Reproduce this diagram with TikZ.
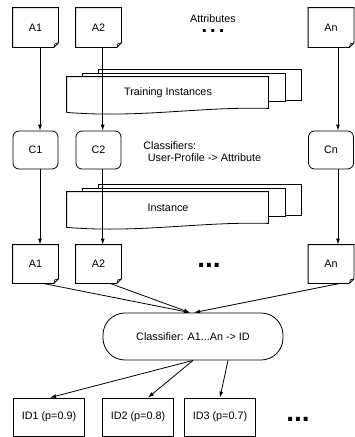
\documentclass[tikz,border=0pt]{standalone}
\usepackage{fontspec}
\setmainfont{Liberation Sans}
\usetikzlibrary{arrows.meta,calc}
\newcommand\docfold[1]{%
  \draw (#1.north west) -- (#1.north east) -- ([yshift=4.5pt]#1.south east) -- ([xshift=-4.5pt]#1.south east) -- (#1.south west) -- cycle;
  \draw[line width=0.6pt] ([yshift=4.5pt]#1.south east) -- ([xshift=-3.6pt,yshift=3.6pt]#1.south east) -- ([xshift=-4.5pt]#1.south east);}
\newcommand\multidoc[1]{%
  \draw (#1.south west) -- (#1.north west) -- (#1.north east) -- ([yshift=4pt]#1.south east)
    .. controls ([xshift=-68pt,yshift=6pt]#1.south east) and ([xshift=73pt,yshift=-6pt]#1.south west) .. (#1.south west);
  \draw ([xshift=16pt]#1.north west) -- ([xshift=16pt,yshift=3.5pt]#1.north west) -- ([xshift=17pt,yshift=3.5pt]#1.north east) -- ([xshift=17pt,yshift=11.5pt]#1.south east) -- ([yshift=11.5pt]#1.south east);
  \draw ([xshift=32pt,yshift=3.5pt]#1.north west) -- ([xshift=32pt,yshift=7pt]#1.north west) -- ([xshift=33pt,yshift=7pt]#1.north east) -- ([xshift=33pt,yshift=12pt]#1.south east) -- ([xshift=17pt,yshift=12pt]#1.south east);}
\begin{document}
\begin{tikzpicture}[x=1pt,y=-1pt, line width=0.8pt,
  every node/.style={font=\fontsize{10.8}{13}\selectfont, inner sep=0pt},
  docnode/.style={minimum width=45pt, minimum height=39pt},
  clsnode/.style={draw, rounded corners=6pt, minimum width=45pt, minimum height=38pt},
  idbox/.style={draw, minimum width=71pt, minimum height=38pt},
  mdoc/.style={minimum width=201pt, minimum height=35pt},
  arr/.style={-{Latex[length=6pt,width=4pt]}},
  bigdots/.style={font=\fontsize{28}{28}\selectfont\bfseries}
]
\useasboundingbox (0,0) rectangle (354,437);

% top attributes
\node[docnode] (a1) at (35.5,27.5) {A1};
\node[docnode] (a2) at (98.5,27.5) {A2};
\node[docnode] (an) at (331,27.5) {An};
\docfold{a1}\docfold{a2}\docfold{an}
\node[align=center, anchor=north] (attr) at (213,14.6) {Attributes\\[-3pt]{\fontsize{20}{20}\selectfont\bfseries .\hspace{3pt}.\hspace{3pt}.}\hspace{8pt}};

% training instances
\node[mdoc] (train) at (167.5,94.5) {};
\multidoc{train}
\node (traintxt) at (168,93) {Training Instances};

% classifiers
\node[clsnode] (c1) at (35.5,150) {C1};
\node[clsnode] (c2) at (98.5,150) {C2};
\node[clsnode] (cn) at (331,150) {Cn};
\node[anchor=base west] (cl1) at (143,149) {Classifiers:};
\node[anchor=base west] (cl2) at (147.5,161) {User-Profile -> Attribute};

% instance
\node[mdoc] (inst) at (167.5,209.5) {};
\multidoc{inst}
\node (insttxt) at (168,208) {Instance};

% bottom attributes
\node[docnode, minimum height=38pt] (b1) at (35.5,264) {A1};
\node[docnode, minimum height=38pt] (b2) at (98.5,264) {A2};
\node[docnode, minimum height=38pt] (bn) at (331,264) {An};
\docfold{b1}\docfold{b2}\docfold{bn}
\node[bigdots] (mdots) at (209,265.5) {...};

% final classifier
\node[draw, rounded corners=22pt, minimum width=180pt, minimum height=47pt] (clf) at (193,336.5) {Classifier: A1...An -> ID};

% ids
\node[idbox] (id1) at (49,417) {ID1 (p=0.9)};
\node[idbox] (id2) at (138,417) {ID2 (p=0.8)};
\node[idbox] (id3) at (220,417) {ID3 (p=0.7)};
\node[bigdots] (bdots) at (298,419.5) {...};

% connectors
\draw[arr] ([xshift=4.5pt]a1.south) -- ([xshift=4.5pt]c1.north);
\draw[arr] ([xshift=4.2pt]a2.south) -- ([xshift=4.2pt]c2.north);
\draw[arr] ([xshift=7pt]an.south) -- ([xshift=7pt]cn.north);
\draw[arr] ([xshift=4.5pt]c1.south) -- ([xshift=4.5pt]b1.north);
\draw[arr] ([xshift=4.2pt]c2.south) -- ([xshift=4.2pt]b2.north);
\draw[arr] ([xshift=7pt]cn.south) -- ([xshift=7pt]bn.north);
\draw[arr] ([xshift=7.5pt]b1.south) -- ([xshift=-3pt]clf.north);
\draw[arr] ([xshift=11.5pt]b2.south) -- ([xshift=-3pt]clf.north);
\draw[arr] ([xshift=9pt]bn.south) -- ([xshift=1pt]clf.north);
\draw[arr] (clf.south) -- ([xshift=1pt]id1.north);
\draw[arr] (clf.south) -- ([xshift=10pt]id2.north);
\draw[arr] ([xshift=35pt]clf.south) -- (id3.north);
\end{tikzpicture}
\end{document}
